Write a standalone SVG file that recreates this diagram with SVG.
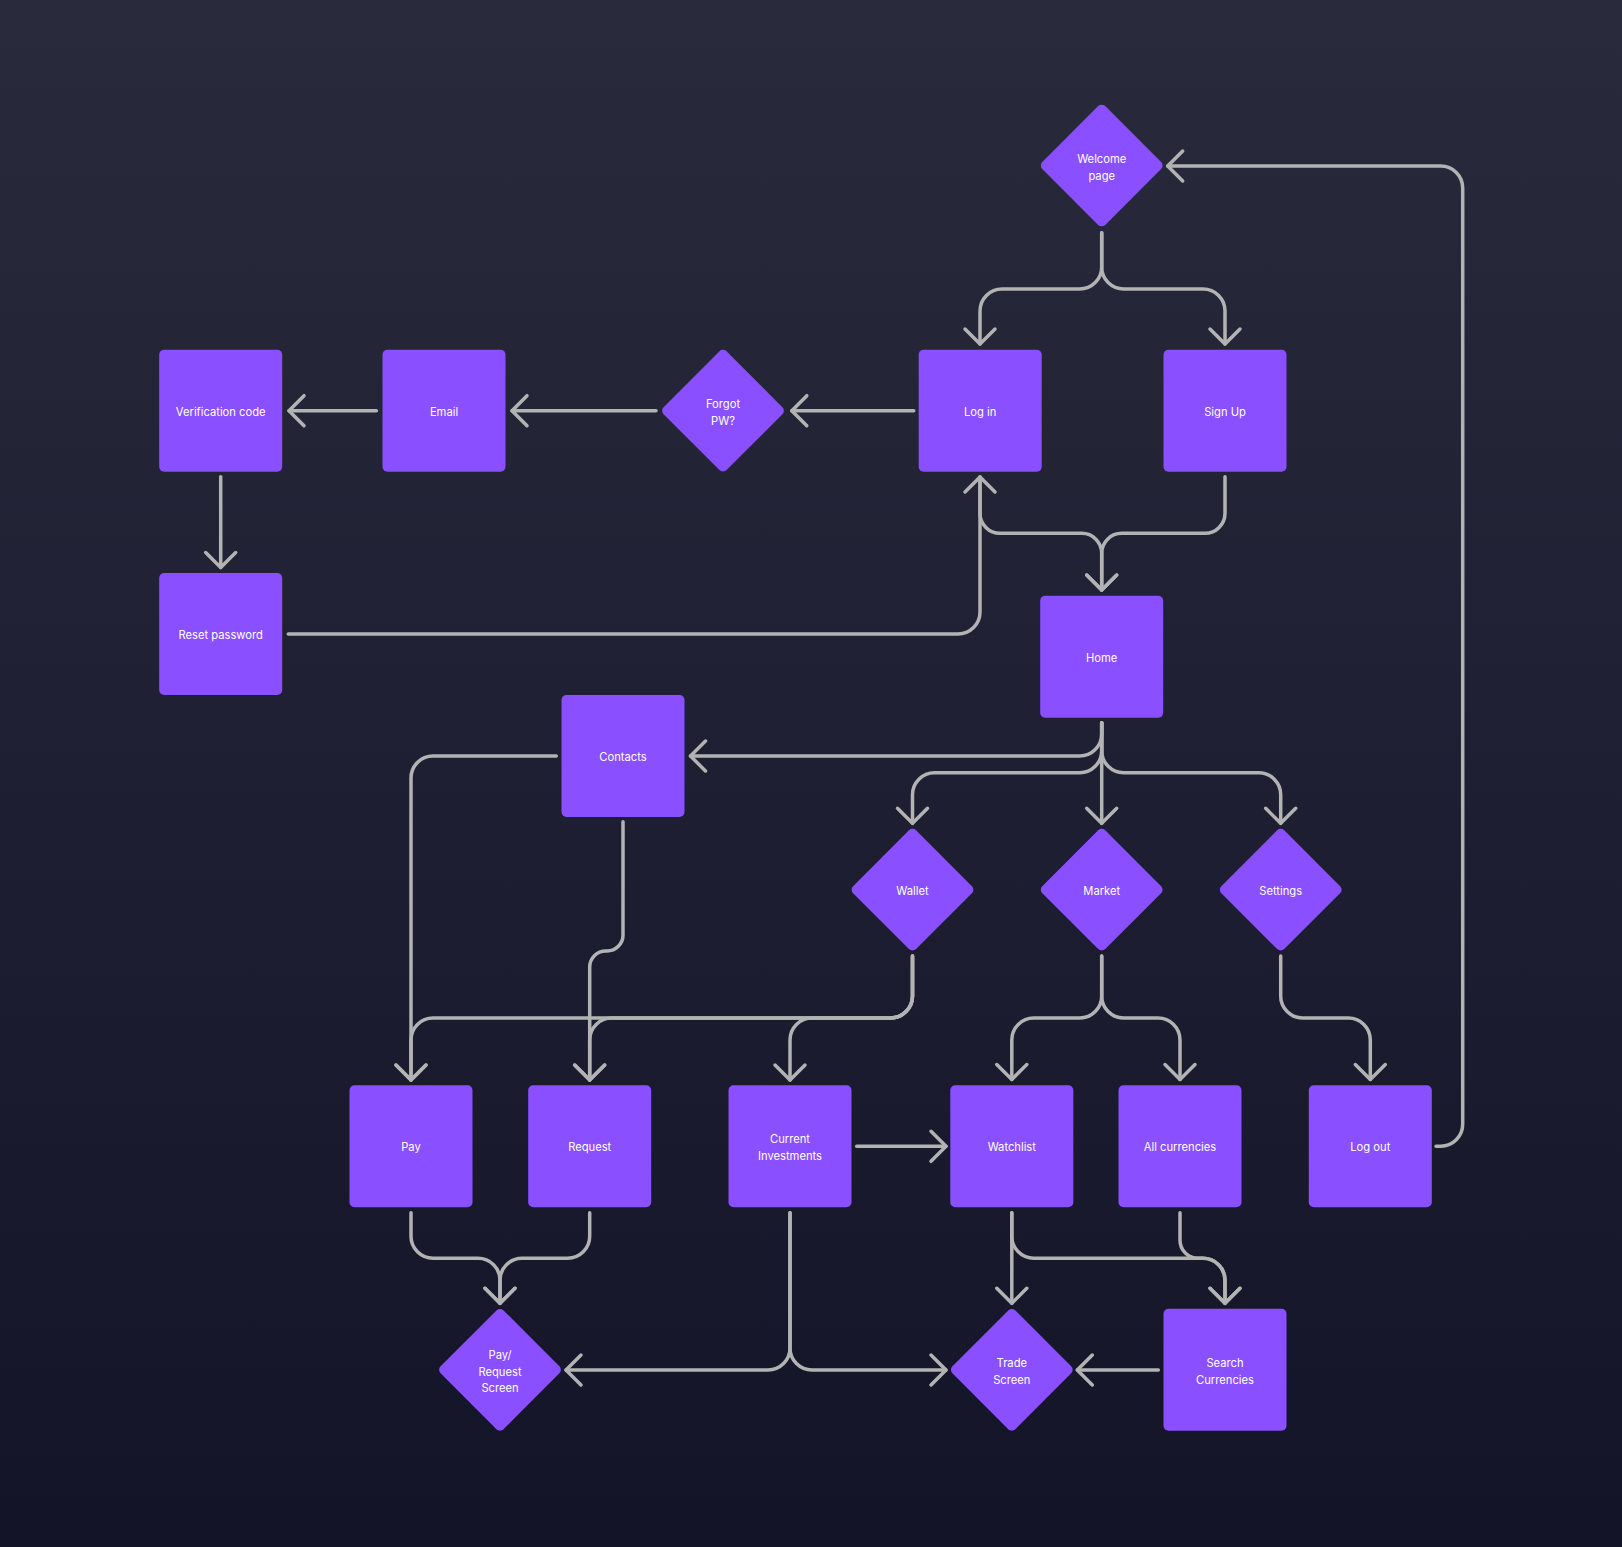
<svg xmlns="http://www.w3.org/2000/svg" width="1622" height="1547" viewBox="0 0 1622 1547">
<defs>
<linearGradient id="bg" x1="0" y1="0" x2="0" y2="1">
<stop offset="0" stop-color="#292b3d"/>
<stop offset="1" stop-color="#131427"/>
</linearGradient>
<marker id="arr" markerUnits="userSpaceOnUse" viewBox="-20 -20 40 40" markerWidth="40" markerHeight="40" refX="0" refY="0" orient="auto" overflow="visible">
<path d="M-15,-15 L0,0 L-15,15" fill="none" stroke="#b3b3b3" stroke-width="3.5" stroke-linecap="round" stroke-linejoin="round"/>
</marker>
<rect id="box" x="-61.5" y="-61" width="123" height="122" rx="5"/>
<rect id="dia" x="-44.5" y="-44.5" width="89" height="89" rx="5" transform="rotate(45)"/>
</defs>
<style>
.node{fill:#8a50ff}
.t{font-family:Inter,"Noto Sans","Liberation Sans",sans-serif;font-size:11.2px;font-weight:400;fill:#ffffff;text-anchor:middle}
.c path{fill:none;stroke:#b3b3b3;stroke-width:3.5;stroke-linecap:round;stroke-linejoin:round}
.c path.a{marker-end:url(#arr)}
</style>
<rect x="0" y="0" width="1622" height="1547" fill="url(#bg)"/>

<g class="c" id="connectors">
<path class="a" d="M1101.7,232.7 V267 A22,22 0 0 1 1079.7,289 H1002 A22,22 0 0 0 980,311 V344"/>
<path class="a" d="M1101.7,232.7 V267 A22,22 0 0 0 1123.7,289 H1203 A22,22 0 0 1 1225,311 V344"/>
<path class="a" d="M913.7,410.7 H791.8"/>
<path class="a" d="M656,410.7 H512"/>
<path class="a" d="M376.4,410.7 H289"/>
<path class="a" d="M220.7,476.7 V567.5"/>
<path class="a" d="M288.3,634 H958 A22,22 0 0 0 980,612 V477"/>
<path class="a" d="M980,477 V513.3 A20,20 0 0 0 1000,533.3 H1081.7 A20,20 0 0 1 1101.7,553.3 V590"/>
<path class="a" d="M1225,476.7 V513.3 A20,20 0 0 1 1205,533.3 H1121.7 A20,20 0 0 0 1101.7,553.3 V590"/>
<path class="a" d="M1101.7,722.7 V734 A22,22 0 0 1 1079.7,756 H690.5"/>
<path class="a" d="M1101.7,722.7 V750.7 A22,22 0 0 1 1079.7,772.7 H934.5 A22,22 0 0 0 912.5,794.7 V823.3"/>
<path class="a" d="M1101.7,722.7 V823.3"/>
<path class="a" d="M1101.7,722.7 V750.7 A22,22 0 0 0 1123.7,772.7 H1258.7 A22,22 0 0 1 1280.7,794.7 V823.3"/>
<path class="a" d="M556.3,756 H433 A22,22 0 0 0 411,778 V1080"/>
<path class="a" d="M623,821.7 V935 A16,16 0 0 1 607,951 H605.7 A16,16 0 0 0 589.7,967 V1080"/>
<path class="a" d="M912.5,956 V996 A22,22 0 0 1 890.5,1018 H433 A22,22 0 0 0 411,1040 V1080"/>
<path class="a" d="M912.5,956 V996 A22,22 0 0 1 890.5,1018 H611.7 A22,22 0 0 0 589.7,1040 V1080"/>
<path class="a" d="M912.5,956 V996 A22,22 0 0 1 890.5,1018 H812 A22,22 0 0 0 790,1040 V1080"/>
<path class="a" d="M1101.7,956 V996 A22,22 0 0 1 1079.7,1018 H1033.8 A22,22 0 0 0 1011.8,1040 V1079.5"/>
<path class="a" d="M1101.7,956 V996 A22,22 0 0 0 1123.7,1018 H1158 A22,22 0 0 1 1180,1040 V1079.5"/>
<path class="a" d="M1280.7,956 V996 A22,22 0 0 0 1302.7,1018 H1348.3 A22,22 0 0 1 1370.3,1040 V1079.5"/>
<path class="a" d="M1436,1146.3 H1440.7 A22,22 0 0 0 1462.7,1124.3 V188 A22,22 0 0 0 1440.7,166 H1167.7"/>
<path class="a" d="M856.7,1146.3 H946"/>
<path class="a" d="M411,1212.7 V1236.3 A22,22 0 0 0 433,1258.3 H478 A22,22 0 0 1 500,1280.3 V1303.3"/>
<path class="a" d="M589.7,1212.7 V1236.3 A22,22 0 0 1 567.7,1258.3 H522 A22,22 0 0 0 500,1280.3 V1303.3"/>
<path class="a" d="M790,1212.7 V1348 A22,22 0 0 1 768,1370 H566"/>
<path class="a" d="M790,1212.7 V1348 A22,22 0 0 0 812,1370 H946"/>
<path class="a" d="M1011.8,1212.7 V1303.3"/>
<path class="a" d="M1011.8,1212.7 V1236.3 A22,22 0 0 0 1033.8,1258.3 H1203 A22,22 0 0 1 1225,1280.3 V1303.3"/>
<path class="a" d="M1180,1212.7 V1240.3 A18,18 0 0 0 1198,1258.3 H1203 A22,22 0 0 1 1225,1280.3 V1303.3"/>
<path class="a" d="M1158.3,1370 H1077.3"/>
</g>

<g id="welcome" transform="translate(1101.7,165.5)"><use href="#dia" class="node"/><text class="t" x="0" y="-2.5">Welcome</text><text class="t" x="0" y="14.8">page</text></g>
<g id="login" transform="translate(980.2,410.7)"><use href="#box" class="node"/><text class="t" x="0" y="4.8">Log in</text></g>
<g id="signup" transform="translate(1225,410.7)"><use href="#box" class="node"/><text class="t" x="0" y="4.8">Sign Up</text></g>
<g id="forgot" transform="translate(723,410.7)"><use href="#dia" class="node"/><text class="t" x="0" y="-2.6">Forgot</text><text class="t" x="0" y="14.1">PW?</text></g>
<g id="email" transform="translate(444,410.7)"><use href="#box" class="node"/><text class="t" x="0" y="4.8">Email</text></g>
<g id="verification" transform="translate(220.7,410.7)"><use href="#box" class="node"/><text class="t" x="0" y="4.8">Verification code</text></g>
<g id="reset" transform="translate(220.7,634)"><use href="#box" class="node"/><text class="t" x="0" y="4.8">Reset password</text></g>
<g id="home" transform="translate(1101.7,656.7)"><use href="#box" class="node"/><text class="t" x="0" y="4.8">Home</text></g>
<g id="contacts" transform="translate(623,756)"><use href="#box" class="node"/><text class="t" x="0" y="4.8">Contacts</text></g>
<g id="wallet" transform="translate(912.5,889.7)"><use href="#dia" class="node"/><text class="t" x="0" y="4.8">Wallet</text></g>
<g id="market" transform="translate(1101.7,889.7)"><use href="#dia" class="node"/><text class="t" x="0" y="4.8">Market</text></g>
<g id="settings" transform="translate(1280.7,889.7)"><use href="#dia" class="node"/><text class="t" x="0" y="4.8">Settings</text></g>
<g id="pay" transform="translate(411,1146.3)"><use href="#box" class="node"/><text class="t" x="0" y="4.8">Pay</text></g>
<g id="request" transform="translate(589.7,1146.3)"><use href="#box" class="node"/><text class="t" x="0" y="4.8">Request</text></g>
<g id="investments" transform="translate(790,1146.3)"><use href="#box" class="node"/><text class="t" x="0" y="-3.5">Current</text><text class="t" x="0" y="14">Investments</text></g>
<g id="watchlist" transform="translate(1011.8,1146.3)"><use href="#box" class="node"/><text class="t" x="0" y="4.8">Watchlist</text></g>
<g id="allcurrencies" transform="translate(1180,1146.3)"><use href="#box" class="node"/><text class="t" x="0" y="4.8">All currencies</text></g>
<g id="logout" transform="translate(1370.3,1146.3)"><use href="#box" class="node"/><text class="t" x="0" y="4.8">Log out</text></g>
<g id="payrequest" transform="translate(500,1369.8)"><use href="#dia" class="node"/><text class="t" x="0" y="-11">Pay/</text><text class="t" x="0" y="5.7">Request</text><text class="t" x="0" y="22.3">Screen</text></g>
<g id="trade" transform="translate(1011.8,1369.8)"><use href="#dia" class="node"/><text class="t" x="0" y="-3">Trade</text><text class="t" x="0" y="14">Screen</text></g>
<g id="search" transform="translate(1225,1369.8)"><use href="#box" class="node"/><text class="t" x="0" y="-3">Search</text><text class="t" x="0" y="14">Currencies</text></g>
</svg>
